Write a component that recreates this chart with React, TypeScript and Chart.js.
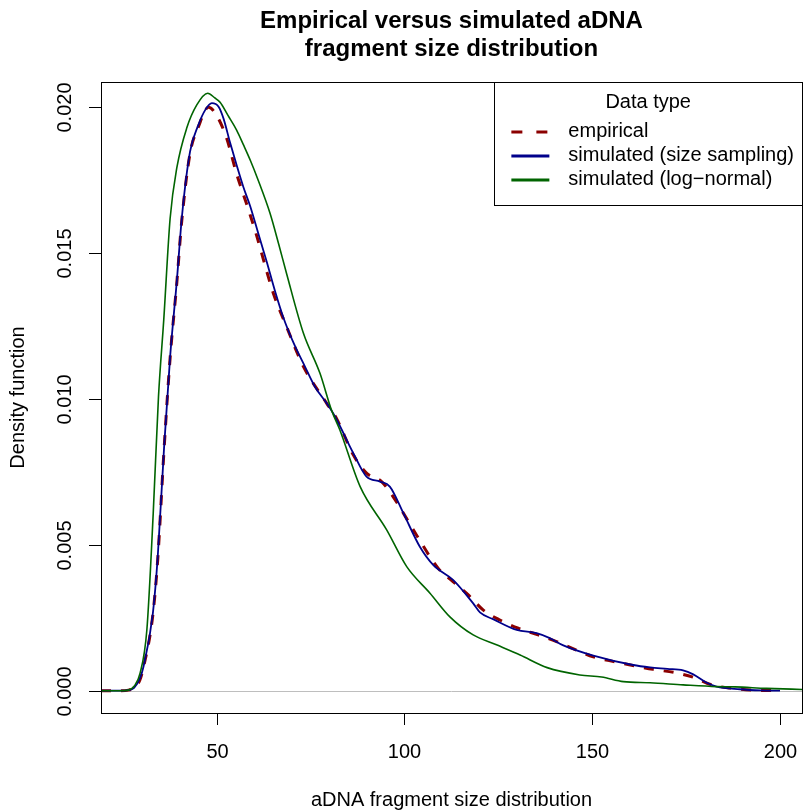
import { useEffect, useRef } from "react";
import { Chart, registerables } from "chart.js";

Chart.register(...registerables);

// Kernel density estimates of aDNA fragment sizes (bp -> density)
const empiricalSize = [19.2, 24, 26.5, 28, 29.5, 30.5, 33.0, 34.3, 36.0, 37.6, 39.4, 40.7, 42.9, 45.1, 47.8, 50.0, 52.7, 55.3, 57.1, 58.9, 60.6, 62.8, 65.1, 68.6, 73.1, 79.3, 82.0, 86.4, 89.9, 93.9, 97.0, 103.2, 109.0, 113.0, 117.0, 121.0, 125.4, 130.3, 135.6, 140.5, 145.8, 150.3, 156.0, 161.4, 166.2, 172.0, 176.9, 181.8, 187.5, 192.9, 199.5];
const empiricalDensity = [0, 0, 0.00002, 0.0001, 0.00035, 0.0008, 0.0026, 0.0045, 0.0083, 0.0114, 0.014, 0.0161, 0.0184, 0.0193, 0.01998, 0.0197, 0.0189, 0.0177, 0.017, 0.0163, 0.0156, 0.0146, 0.0136, 0.01247, 0.0111, 0.00984, 0.0093, 0.00807, 0.00745, 0.00716, 0.00664, 0.00533, 0.00419, 0.00373, 0.00328, 0.00276, 0.00242, 0.00214, 0.00191, 0.00168, 0.00139, 0.00116, 0.00099, 0.00085, 0.00073, 0.00062, 0.00046, 0.0002, 0.00008, 0.00002, 0];

const samplingSize = [19.2, 24, 26.5, 28, 29.5, 30.5, 33.0, 34.3, 36.0, 37.6, 39.4, 40.7, 42.9, 45.1, 47.0, 48.7, 50.5, 51.8, 53.5, 55.3, 57.1, 58.9, 61.1, 63.3, 65.5, 67.7, 70.5, 73.5, 76.2, 79.3, 81.0, 82.0, 86.4, 89.9, 93.5, 96.1, 99.7, 104.1, 107.7, 113.0, 118.3, 120.1, 123.6, 129.9, 135.2, 138.7, 142.3, 150.3, 160.9, 165.4, 170.0, 174.2, 176.9, 180.5, 183.1, 189.3, 195.0, 200.0];
const samplingDensity = [0, 0, 0.00002, 0.0001, 0.0004, 0.00082, 0.00265, 0.00459, 0.00836, 0.01144, 0.01406, 0.01618, 0.01846, 0.01937, 0.0199, 0.02012, 0.02, 0.0196, 0.0188, 0.018, 0.01725, 0.0166, 0.01565, 0.0147, 0.0137, 0.0128, 0.0119, 0.0111, 0.0104, 0.00984, 0.0095, 0.00927, 0.00813, 0.00733, 0.00716, 0.00699, 0.00608, 0.00493, 0.0043, 0.00379, 0.00299, 0.00268, 0.00245, 0.00208, 0.00197, 0.0018, 0.00155, 0.0012, 0.00088, 0.0008, 0.00075, 0.0007, 0.00056, 0.00027, 0.00014, 0.00005, 0.00001, 0];

const lognormalSize = [19.2, 24, 26.5, 28, 29.6, 31.4, 33.1, 34.5, 35.9, 37.6, 39.4, 42.0, 44.7, 47.6, 49.5, 50.9, 53.0, 55.3, 57.1, 59.0, 61.0, 64.2, 66.5, 68.6, 73.1, 77.5, 80.6, 82.8, 88.2, 95.3, 100.6, 106.8, 112.1, 118.3, 124.5, 130.8, 138.0, 146.7, 152.5, 158.3, 165.4, 174.2, 183.1, 188.0, 196.4, 206.5];
const lognormalDensity = [0, 0, 0.00002, 0.00015, 0.0006, 0.00208, 0.00608, 0.01007, 0.0127, 0.01618, 0.01792, 0.01926, 0.02006, 0.02046, 0.0203, 0.02015, 0.0197, 0.0192, 0.0187, 0.01815, 0.0175, 0.01635, 0.0153, 0.01429, 0.01224, 0.01087, 0.0096, 0.00893, 0.00699, 0.0055, 0.00425, 0.00334, 0.00253, 0.00191, 0.00157, 0.00122, 0.00079, 0.00054, 0.00047, 0.00031, 0.00027, 0.0002, 0.00014, 0.00013, 0.00008, 0.00004];

const xTicks = [50, 100, 150, 200];
const xTickLabels = ["50", "100", "150", "200"];
const yTicks = [0, 0.005, 0.01, 0.015, 0.02];
const yTickLabels = ["0.000", "0.005", "0.010", "0.015", "0.020"];

const titleLines = ["Empirical versus simulated aDNA", "fragment size distribution"];
const xTitle = "aDNA fragment size distribution";
const yTitle = "Density function";
const legendTitle = "Data type";
const seriesNames = ["empirical", "simulated (size sampling)", "simulated (log\u2212normal)"];
const seriesColors = ["#8b0000", "#00008b", "#006400"];

const FONT = '"Liberation Sans", Arial, Helvetica, sans-serif';

const toPoints = (xs: number[], ys: number[]) => xs.map((v, i) => ({ x: v, y: ys[i] }));

const decorations = {
  id: "decorations",
  beforeDatasetsDraw(chart: any) {
    const { ctx, chartArea: a, scales } = chart;
    const y0 = Math.round(scales.y.getPixelForValue(0)) + 0.5;
    ctx.save();
    ctx.strokeStyle = "#bebebe";
    ctx.lineWidth = 1;
    ctx.beginPath();
    ctx.moveTo(a.left, y0);
    ctx.lineTo(a.right, y0);
    ctx.stroke();
    ctx.restore();
  },
  afterDraw(chart: any) {
    const { ctx, chartArea: a, scales } = chart;
    const xs = scales.x;
    const ys = scales.y;
    ctx.save();
    ctx.strokeStyle = "#000";
    ctx.fillStyle = "#000";
    ctx.lineWidth = 1;

    // plot frame
    ctx.strokeRect(a.left + 0.5, a.top + 0.5, a.right - a.left, a.bottom - a.top);

    // x axis ticks and labels
    ctx.font = `20px ${FONT}`;
    ctx.textAlign = "center";
    ctx.textBaseline = "alphabetic";
    xTicks.forEach((v, i) => {
      const px = Math.round(xs.getPixelForValue(v)) + 0.5;
      ctx.beginPath();
      ctx.moveTo(px, a.bottom);
      ctx.lineTo(px, a.bottom + 12);
      ctx.stroke();
      ctx.fillText(xTickLabels[i], px, a.bottom + 45);
    });

    // y axis ticks and rotated labels
    yTicks.forEach((v, i) => {
      const py = Math.round(ys.getPixelForValue(v)) + 0.5;
      ctx.beginPath();
      ctx.moveTo(a.left - 12, py);
      ctx.lineTo(a.left, py);
      ctx.stroke();
      ctx.save();
      ctx.translate(a.left - 30, py);
      ctx.rotate(-Math.PI / 2);
      ctx.fillText(yTickLabels[i], 0, 0);
      ctx.restore();
    });

    // axis titles
    const cx = (a.left + a.right) / 2;
    const cy = (a.top + a.bottom) / 2;
    ctx.fillText(xTitle, cx, a.bottom + 93);
    ctx.save();
    ctx.translate(24, cy);
    ctx.rotate(-Math.PI / 2);
    ctx.fillText(yTitle, 0, 0);
    ctx.restore();

    // main title
    ctx.font = `bold 24px ${FONT}`;
    ctx.fillText(titleLines[0], cx, 28);
    ctx.fillText(titleLines[1], cx, 56);

    // legend
    ctx.font = `20px ${FONT}`;
    const maxW = Math.max(...seriesNames.map((s) => ctx.measureText(s).width));
    const boxRight = a.right;
    const boxLeft = boxRight - (maxW + 74 + 8);
    const boxTop = a.top;
    const boxBottom = 205;
    ctx.fillStyle = "#fff";
    ctx.fillRect(boxLeft, boxTop, boxRight - boxLeft, boxBottom - boxTop);
    ctx.strokeStyle = "#000";
    ctx.lineWidth = 1;
    ctx.strokeRect(Math.round(boxLeft) + 0.5, boxTop + 0.5, Math.round(boxRight - boxLeft), boxBottom - boxTop);
    ctx.fillStyle = "#000";
    ctx.textAlign = "center";
    ctx.fillText(legendTitle, (boxLeft + boxRight) / 2, 108);
    ctx.textAlign = "left";
    const rowY = [132, 156, 180];
    seriesNames.forEach((name, i) => {
      const ly = rowY[i];
      ctx.strokeStyle = seriesColors[i];
      ctx.lineWidth = 3;
      ctx.setLineDash(i === 0 ? [11, 14] : []);
      ctx.beginPath();
      ctx.moveTo(boxLeft + 17, ly);
      ctx.lineTo(boxLeft + 55, ly);
      ctx.stroke();
      ctx.setLineDash([]);
      ctx.fillStyle = "#000";
      ctx.fillText(name, boxLeft + 74, ly + 5);
    });
    ctx.restore();
  },
};

export default function App() {
  const canvasRef = useRef<HTMLCanvasElement | null>(null);

  useEffect(() => {
    const canvas = canvasRef.current;
    if (!canvas) return;
    const chart = new Chart(canvas, {
      type: "line",
      data: {
        datasets: [
          {
            label: seriesNames[0],
            data: toPoints(empiricalSize, empiricalDensity),
            borderColor: seriesColors[0],
            borderWidth: 3,
            borderDash: [10, 10],
            pointRadius: 0,
            cubicInterpolationMode: "monotone",
            fill: false,
            order: 3,
          },
          {
            label: seriesNames[1],
            data: toPoints(samplingSize, samplingDensity),
            borderColor: seriesColors[1],
            borderWidth: 1.8,
            pointRadius: 0,
            cubicInterpolationMode: "monotone",
            fill: false,
            order: 2,
          },
          {
            label: seriesNames[2],
            data: toPoints(lognormalSize, lognormalDensity),
            borderColor: seriesColors[2],
            borderWidth: 1.6,
            pointRadius: 0,
            cubicInterpolationMode: "monotone",
            fill: false,
            order: 1,
          },
        ],
      },
      options: {
        responsive: false,
        animation: false,
        devicePixelRatio: 1,
        layout: { padding: { left: 101, right: 5, top: 82, bottom: 97 } },
        plugins: { legend: { display: false }, title: { display: false }, tooltip: { enabled: false } },
        scales: {
          x: { type: "linear", min: 19.19, max: 205.86, display: false },
          y: { type: "linear", min: -0.000764, max: 0.020846, display: false },
        },
      },
      plugins: [decorations],
    });
    return () => chart.destroy();
  }, []);

  return (
    <div style={{ position: "absolute", left: 0, top: 0, width: 807, height: 810, background: "#fff" }}>
      <canvas ref={canvasRef} width={807} height={810} style={{ display: "block" }} />
    </div>
  );
}
